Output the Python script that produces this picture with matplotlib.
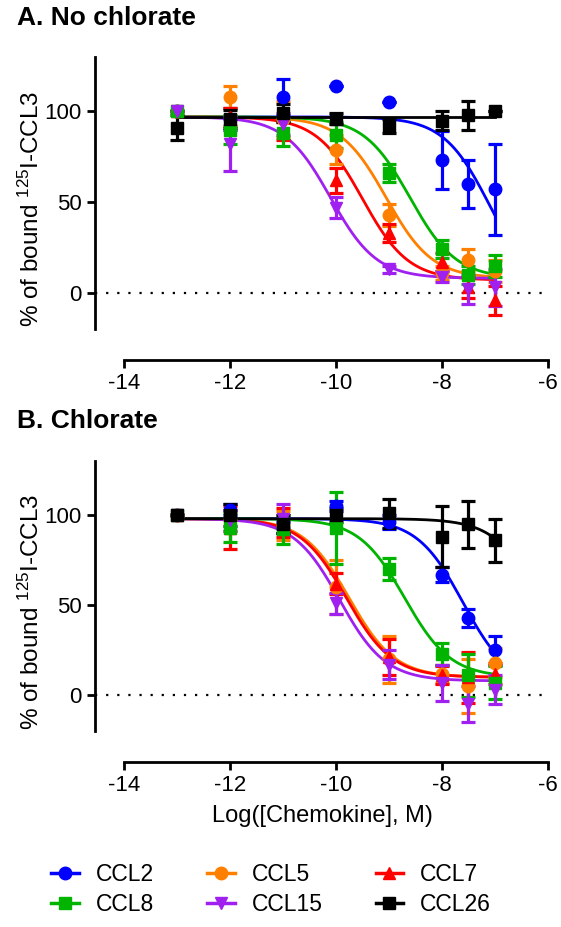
import numpy as np
import matplotlib.pyplot as plt

plt.rcParams['font.family'] = ['Liberation Sans', 'DejaVu Sans']
plt.rcParams['mathtext.default'] = 'regular'
plt.rcParams['axes.unicode_minus'] = False

# concentrations (log M)
log_conc = [-13, -12, -11, -10, -9, -8, -7.5, -7]
names = ["CCL2", "CCL5", "CCL7", "CCL8", "CCL15", "CCL26"]
colors = ["#0000ff", "#ff8000", "#ff0000", "#00b400", "#a020f0", "#000000"]
markers = ["o", "o", "^", "s", "v", "s"]

# Panel A - no chlorate (mean, sem)
a_ccl2 = [100, 96, 108, 114, 105, 73, 60, 57]
a_ccl2_err = [0, 6, 10, 0, 0, 16, 13, 25]
a_ccl5 = [100, 108, 96, 79, 43, 11, 18, 12]
a_ccl5_err = [0, 6, 10, 8, 6, 4, 6, 6]
a_ccl7 = [100, 97, 89, 62, 33, 17, 3, -4]
a_ccl7_err = [0, 5, 5, 7, 5, 5, 6, 8]
a_ccl8 = [100, 90, 88, 87, 66, 24, 10, 15]
a_ccl8_err = [0, 8, 7, 7, 5, 5, 5, 6]
a_ccl15 = [100, 82, 93, 47, 13, 9, 2, 3]
a_ccl15_err = [0, 15, 6, 6, 2, 3, 8, 10]
a_ccl26 = [91, 96, 99, 96, 92, 95, 98, 100]
a_ccl26_err = [7, 5, 5, 3, 4, 5, 8, 0]

# Panel B - chlorate
b_ccl2 = [100, 103, 93, 105, 96, 67, 43, 25]
b_ccl2_err = [0, 3, 3, 3, 4, 4, 5, 8]
b_ccl5 = [100, 97, 94, 60, 20, 12, 5, 18]
b_ccl5_err = [0, 6, 8, 15, 13, 5, 15, 8]
b_ccl7 = [100, 93, 96, 62, 21, 11, 10, 12]
b_ccl7_err = [0, 12, 8, 6, 10, 5, 14, 6]
b_ccl8 = [100, 93, 92, 93, 70, 23, 11, 7]
b_ccl8_err = [0, 8, 8, 20, 6, 6, 12, 9]
b_ccl15 = [100, 97, 98, 51, 17, 7, -5, 3]
b_ccl15_err = [0, 6, 8, 6, 8, 10, 10, 8]
b_ccl26 = [100, 100, 95, 100, 101, 88, 95, 86]
b_ccl26_err = [0, 6, 5, 4, 8, 17, 13, 12]

# fitted curve parameters (top, bottom, logIC50), hill slope -1
a_top = [97, 97, 97, 97, 97, 97]
a_bottom = [0, 8, 7, 8, 8, 97]
a_logic50 = [-7.1, -9.05, -9.5, -8.6, -10.1, -6.0]
b_top = [98, 98, 98, 98, 98, 98]
b_bottom = [5, 10, 10, 10, 8, 0]
b_logic50 = [-7.6, -9.75, -9.8, -8.7, -9.93, -6.1]

panels = [
    ("A. No chlorate",
     [a_ccl2, a_ccl5, a_ccl7, a_ccl8, a_ccl15, a_ccl26],
     [a_ccl2_err, a_ccl5_err, a_ccl7_err, a_ccl8_err, a_ccl15_err, a_ccl26_err],
     a_top, a_bottom, a_logic50),
    ("B. Chlorate",
     [b_ccl2, b_ccl5, b_ccl7, b_ccl8, b_ccl15, b_ccl26],
     [b_ccl2_err, b_ccl5_err, b_ccl7_err, b_ccl8_err, b_ccl15_err, b_ccl26_err],
     b_top, b_bottom, b_logic50),
]

fig = plt.figure(figsize=(5.61, 9.27), dpi=100)
ax_rects = [[0.169, 0.6117, 0.812, 0.3268], [0.169, 0.178, 0.812, 0.3247]]
title_y = [0.9806, 0.5459]

xfit = np.linspace(-13, -7, 200)
handles = {}
for (title, ys, errs, top, bottom, lic), rect, ty in zip(panels, ax_rects, title_y):
    ax = fig.add_axes(rect)
    ax.axhline(0, color='black', linestyle=(0, (1, 4)), linewidth=1.6, zorder=1)
    for i in range(len(names)):
        yfit = bottom[i] + (top[i] - bottom[i]) / (1 + 10 ** (xfit - lic[i]))
        ax.plot(xfit, yfit, color=colors[i], linewidth=2, zorder=2)
        ax.errorbar(log_conc, ys[i], yerr=errs[i], fmt=markers[i], color=colors[i],
                    markersize=9, elinewidth=2.3, capsize=5, capthick=2.3, zorder=3)
        handles[names[i]] = (colors[i], markers[i])
    ax.set_xlim(-14.55, -5.95)
    ax.set_ylim(-37, 130)
    ax.spines['top'].set_visible(False)
    ax.spines['right'].set_visible(False)
    ax.spines['left'].set_bounds(-20, 130)
    ax.spines['bottom'].set_bounds(-14, -6)
    ax.spines['left'].set_linewidth(2)
    ax.spines['bottom'].set_linewidth(2)
    ax.set_xticks([-14, -12, -10, -8, -6])
    ax.set_yticks([0, 50, 100])
    ax.tick_params(width=2, length=6, labelsize=16)
    ax.set_ylabel("% of bound $^{125}$I-CCL3", fontsize=17.5, labelpad=0)
    fig.text(0.03, ty, title, fontsize=19, fontweight='bold', ha='left', va='center')

ax.set_xlabel("Log([Chemokine], M)", fontsize=17, labelpad=6)

# legend, 3 columns x 2 rows
order = ["CCL2", "CCL8", "CCL5", "CCL15", "CCL7", "CCL26"]
leg_lines = [plt.Line2D([], [], color=handles[n][0], marker=handles[n][1],
                        markersize=9, linewidth=2.5) for n in order]
fig.legend(leg_lines, order, loc='upper left', bbox_to_anchor=(0.055, 0.091),
           ncol=3, frameon=False, fontsize=16.5, handlelength=1.2,
           columnspacing=2.3, handletextpad=0.75, labelspacing=0.3)

plt.savefig("out.png", dpi=100)
